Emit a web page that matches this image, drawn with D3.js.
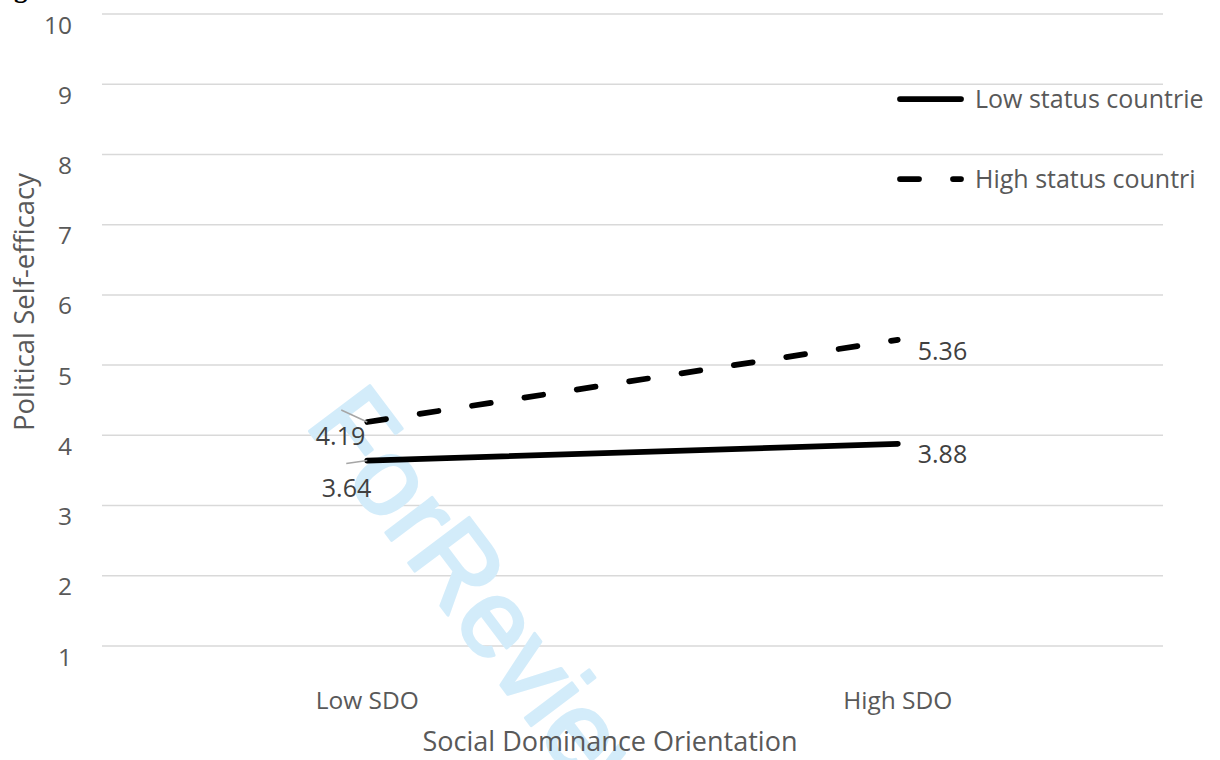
<!DOCTYPE html>
<html>
<head>
<meta charset="utf-8">
<script src="https://cdn.jsdelivr.net/npm/d3@7"></script>
<style>
  html, body { margin: 0; padding: 0; background: #fff; }
  svg { display: block; }
</style>
</head>
<body>
<svg id="chart" width="1220" height="760"></svg>
<script>
// ---- data ----
const categories = ["Low SDO", "High SDO"];
const lowStatus = [3.64, 3.88];
const highStatus = [4.19, 5.36];
const seriesNames = ["Low status countrie", "High status countri"];
const yTicks = [1, 2, 3, 4, 5, 6, 7, 8, 9, 10];
const xTitle = "Social Dominance Orientation";
const yTitle = "Political Self-efficacy";
const watermark = "ForReview";

// ---- layout ----
const plotLeft = 102, plotRight = 1163, plotTop = 14, plotBottom = 646;
const font = "'Open Sans', 'Noto Sans', sans-serif";
const textColor = "#595959";
const labelColor = "#404040";

const svg = d3.select("#chart");

const x = d3.scalePoint().domain(categories).range([plotLeft, plotRight]).padding(0.5);
const y = d3.scaleLinear().domain([1, 10]).range([plotBottom, plotTop]);

// partially visible caption glyph at the top-left
svg.append("text").attr("x", 14).attr("y", -3)
  .attr("font-family", "'Liberation Serif', serif").attr("font-weight", "bold")
  .attr("font-size", 27).attr("fill", "#000").text("g");

// gridlines
svg.append("g").selectAll("line").data(yTicks).join("line")
  .attr("x1", plotLeft).attr("x2", plotRight)
  .attr("y1", d => y(d)).attr("y2", d => y(d))
  .attr("stroke", "#d9d9d9").attr("stroke-width", 1.5);

// y tick labels
svg.append("g").selectAll("text").data(yTicks).join("text")
  .attr("x", 72).attr("y", d => y(d) + 19.5)
  .attr("text-anchor", "end")
  .attr("font-family", font).attr("font-size", 24.5).attr("fill", textColor)
  .text(d => d);

// watermark
svg.append("text")
  .attr("transform", "translate(304,424) rotate(53)")
  .attr("font-family", "'Liberation Sans', Arial, sans-serif")
  .attr("font-size", 110)
  .attr("fill", "#d3ecfa")
  .attr("stroke", "#d3ecfa").attr("stroke-width", 3).attr("stroke-linejoin", "round")
  .text(watermark);

// x category labels
svg.append("g").selectAll("text").data(categories).join("text")
  .attr("x", d => x(d)).attr("y", 709)
  .attr("text-anchor", "middle")
  .attr("font-family", font).attr("font-size", 24.5).attr("fill", textColor)
  .text(d => d);

// axis titles
svg.append("text").attr("x", 610).attr("y", 751)
  .attr("text-anchor", "middle")
  .attr("font-family", font).attr("font-size", 27).attr("fill", textColor)
  .text(xTitle);

svg.append("text")
  .attr("transform", "translate(34,302) rotate(-90)")
  .attr("text-anchor", "middle")
  .attr("font-family", font).attr("font-size", 27.5).attr("fill", textColor)
  .text(yTitle);

// lines
const line = d3.line().x((d, i) => x(categories[i])).y(d => y(d));

svg.append("path").datum(lowStatus)
  .attr("d", line).attr("fill", "none")
  .attr("stroke", "#000").attr("stroke-width", 5.75).attr("stroke-linecap", "round");

svg.append("path").datum(highStatus)
  .attr("d", line).attr("fill", "none")
  .attr("stroke", "#000").attr("stroke-width", 5.75).attr("stroke-linecap", "round")
  .attr("stroke-dasharray", "19 34");

// data labels with leader lines
const fmt = d3.format(".2f");
const lbl = svg.append("g").attr("font-family", font).attr("font-size", 25).attr("fill", labelColor);

const x0 = x(categories[0]), x1 = x(categories[1]);
svg.append("line").attr("x1", x0).attr("y1", y(highStatus[0]))
  .attr("x2", x0 - 26).attr("y2", y(highStatus[0]) - 12)
  .attr("stroke", "#a6a6a6").attr("stroke-width", 1.5);
lbl.append("text").attr("x", x0 - 2).attr("y", y(highStatus[0]) + 23)
  .attr("text-anchor", "end").text(fmt(highStatus[0]));
svg.append("line").attr("x1", x0).attr("y1", y(lowStatus[0]))
  .attr("x2", x0 - 21).attr("y2", y(lowStatus[0]) + 3)
  .attr("stroke", "#a6a6a6").attr("stroke-width", 1.5);
lbl.append("text").attr("x", x0 + 4).attr("y", y(lowStatus[0]) + 36)
  .attr("text-anchor", "end").text(fmt(lowStatus[0]));
lbl.append("text").attr("x", x1 + 20).attr("y", y(highStatus[1]) + 20).text(fmt(highStatus[1]));
lbl.append("text").attr("x", x1 + 20).attr("y", y(lowStatus[1]) + 19).text(fmt(lowStatus[1]));

// legend
const lg = svg.append("g");
lg.append("line").attr("x1", 900).attr("x2", 961).attr("y1", 99).attr("y2", 99)
  .attr("stroke", "#000").attr("stroke-width", 5.75).attr("stroke-linecap", "round");
lg.append("line").attr("x1", 900).attr("x2", 961).attr("y1", 179).attr("y2", 179)
  .attr("stroke", "#000").attr("stroke-width", 5.75).attr("stroke-linecap", "round")
  .attr("stroke-dasharray", "19 34");
lg.selectAll("text").data(seriesNames).join("text")
  .attr("x", 975).attr("y", (d, i) => 108 + i * 80)
  .attr("font-family", font).attr("font-size", 25).attr("fill", textColor)
  .text(d => d);
</script>
</body>
</html>
